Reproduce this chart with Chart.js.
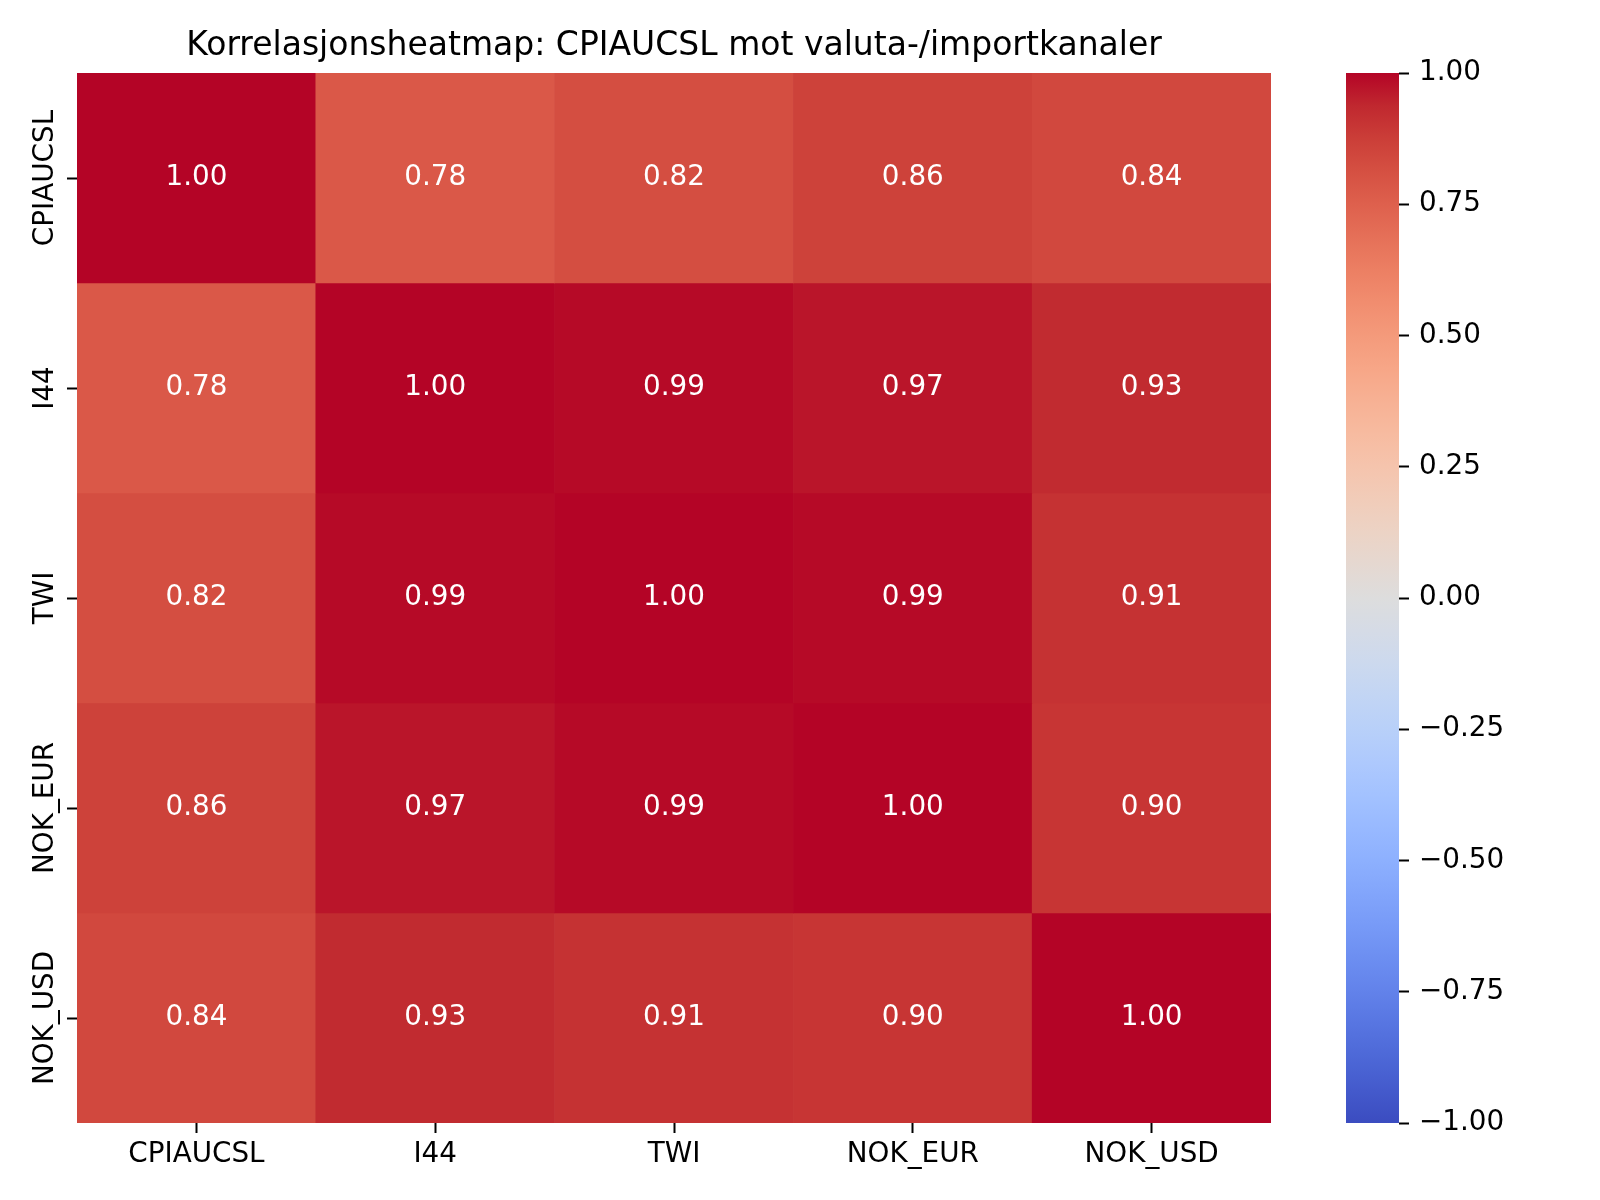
<!DOCTYPE html>
<html>
<head>
<meta charset="utf-8">
<script src="https://cdn.jsdelivr.net/npm/chart.js@4.4.1/dist/chart.umd.min.js"></script>
<style>
  html, body { margin: 0; padding: 0; background: #fff; overflow: hidden; }
  #wrap { position: relative; width: 1600px; height: 1200px; }
  #main { position: absolute; left: 0; top: 0; }
  #cbar { position: absolute; left: 1300px; top: 0; }
</style>
</head>
<body>
<div id="wrap">
  <canvas id="main" width="1348" height="1200"></canvas>
  <canvas id="cbar" width="300" height="1200"></canvas>
</div>
<script>
const titleText = 'Korrelasjonsheatmap: CPIAUCSL mot valuta-/importkanaler';
const columns = ['CPIAUCSL', 'I44', 'TWI', 'NOK_EUR', 'NOK_USD'];
const rows = ['CPIAUCSL', 'I44', 'TWI', 'NOK_EUR', 'NOK_USD'];

const rowCPIAUCSL = [1.00, 0.78, 0.82, 0.86, 0.84];
const rowI44      = [0.78, 1.00, 0.99, 0.97, 0.93];
const rowTWI      = [0.82, 0.99, 1.00, 0.99, 0.91];
const rowNOK_EUR  = [0.86, 0.97, 0.99, 1.00, 0.90];
const rowNOK_USD  = [0.84, 0.93, 0.91, 0.90, 1.00];
const matrix = [rowCPIAUCSL, rowI44, rowTWI, rowNOK_EUR, rowNOK_USD];

const colorbarTicks = [-1, -0.75, -0.5, -0.25, 0, 0.25, 0.5, 0.75, 1];

// coolwarm (Moreland) control points, evenly spaced 0..1
const coolwarm = [
  [59,76,192],[68,90,204],[77,104,215],[87,117,225],[98,130,234],[108,142,241],
  [119,154,247],[130,165,251],[141,176,254],[152,185,255],[163,194,255],[174,201,253],
  [184,208,249],[194,213,244],[204,217,238],[213,219,230],[221,221,221],[229,216,209],
  [236,211,197],[241,204,185],[245,196,173],[247,187,160],[247,177,148],[247,166,135],
  [244,154,123],[241,141,111],[236,127,99],[229,112,88],[222,96,77],[213,80,66],
  [203,62,56],[192,40,47],[180,4,38]
];

function cmap(t) {
  t = Math.max(0, Math.min(1, t));
  const n = coolwarm.length - 1;
  const i = Math.min(n - 1, Math.floor(t * n));
  const f = t * n - i;
  const a = coolwarm[i], b = coolwarm[i + 1];
  const c = a.map((v, k) => Math.round(v + (b[k] - v) * f));
  return 'rgb(' + c.join(',') + ')';
}
const valueColor = v => cmap((v + 1) / 2);

const FONT = 'DejaVu Sans';
const TICK_SIZE = 27.8;
Chart.defaults.font.family = FONT;
Chart.defaults.color = '#000';

// value labels in the middle of each cell
const cellText = {
  id: 'cellText',
  afterDatasetsDraw(chart) {
    const ctx = chart.ctx;
    ctx.save();
    ctx.fillStyle = '#fff';
    ctx.font = TICK_SIZE + 'px "' + FONT + '"';
    ctx.textAlign = 'center';
    ctx.textBaseline = 'middle';
    chart.data.datasets.forEach((ds, i) => {
      const meta = chart.getDatasetMeta(i);
      meta.data.forEach((bar, j) => {
        const p = bar.getProps(['x', 'y', 'base'], true);
        ctx.fillText(ds.values[j].toFixed(2), p.x, (p.y + p.base) / 2);
      });
    });
    ctx.restore();
  }
};

// rotated row names on the left
const rowLabels = {
  id: 'rowLabels',
  afterDraw(chart) {
    const y = chart.scales.y;
    const ctx = chart.ctx;
    ctx.save();
    ctx.fillStyle = '#000';
    ctx.font = TICK_SIZE + 'px "' + FONT + '"';
    ctx.textAlign = 'center';
    ctx.textBaseline = 'alphabetic';
    rows.forEach((name, r) => {
      ctx.save();
      ctx.translate(y.right - 24, y.getPixelForValue(r + 0.5));
      ctx.rotate(-Math.PI / 2);
      ctx.fillText(name, 0, 0);
      ctx.restore();
    });
    ctx.restore();
  }
};

function initMain() {
  const datasets = matrix.map((vals, r) => ({
    label: rows[r],
    values: vals,
    data: vals.map(() => [r, r + 1]),
    backgroundColor: vals.map(valueColor),
    borderWidth: 0,
    barPercentage: 1,
    categoryPercentage: 1
  }));

  new Chart(document.getElementById('main'), {
    type: 'bar',
    data: { labels: columns, datasets },
    options: {
      responsive: false,
      animation: false,
      devicePixelRatio: 1,
      plugins: {
        legend: { display: false },
        tooltip: { enabled: false },
        title: {
          display: true,
          text: titleText,
          color: '#000',
          font: { size: 33, weight: 'normal', family: FONT },
          padding: { top: 27, bottom: 6.4 }
        }
      },
      scales: {
        x: {
          stacked: true,
          border: { display: false },
          grid: {
            display: true, drawOnChartArea: false, drawTicks: true, offset: false,
            tickLength: 10, tickColor: '#000', tickWidth: 2
          },
          ticks: { font: { size: TICK_SIZE }, color: '#000', padding: 5, maxRotation: 0, minRotation: 0 },
          afterFit(scale) { scale.height = 77; }
        },
        y: {
          type: 'linear',
          stacked: false,
          min: 0,
          max: rows.length,
          reverse: true,
          border: { display: false },
          grid: {
            display: true, drawOnChartArea: false, drawTicks: true,
            tickLength: 10, tickColor: '#000', tickWidth: 2
          },
          ticks: { display: false },
          afterBuildTicks(scale) {
            scale.ticks = rows.map((_, r) => ({ value: r + 0.5 }));
          },
          afterFit(scale) { scale.width = 77; }
        },
        // empty spacer on the right so the title stays centred over the cells
        spacer: {
          type: 'linear',
          position: 'right',
          border: { display: false },
          grid: { display: false },
          ticks: { display: false },
          afterFit(scale) { scale.width = 77; }
        }
      }
    },
    plugins: [cellText, rowLabels]
  });
}

function initColorbar() {
  new Chart(document.getElementById('cbar'), {
    type: 'bar',
    data: {
      labels: [''],
      datasets: [{
        data: [[colorbarTicks[0], colorbarTicks[colorbarTicks.length - 1]]],
        borderWidth: 0,
        borderSkipped: false,
        barPercentage: 1,
        categoryPercentage: 1,
        backgroundColor(c) {
          const area = c.chart.chartArea;
          if (!area) return '#ccc';
          const g = c.chart.ctx.createLinearGradient(0, area.bottom, 0, area.top);
          coolwarm.forEach((_, k) => {
            const t = k / (coolwarm.length - 1);
            g.addColorStop(t, cmap(t));
          });
          return g;
        }
      }]
    },
    options: {
      responsive: false,
      animation: false,
      devicePixelRatio: 1,
      layout: { padding: { left: 46, right: 0, top: 73, bottom: 77 } },
      plugins: { legend: { display: false }, tooltip: { enabled: false } },
      scales: {
        x: { display: false },
        y: {
          position: 'right',
          min: -1,
          max: 1,
          border: { display: false },
          grid: {
            display: true, drawOnChartArea: false, drawTicks: true,
            tickLength: 10, tickColor: '#000', tickWidth: 2
          },
          ticks: {
            font: { size: TICK_SIZE }, color: '#000', padding: 10,
            callback: v => (v < 0 ? '\u2212' : '') + Math.abs(v).toFixed(2)
          },
          afterBuildTicks(scale) {
            scale.ticks = colorbarTicks.map(v => ({ value: v }));
          },
          afterFit(scale) { scale.width = 201; }
        }
      }
    }
  });
}

initMain();
initColorbar();
</script>
</body>
</html>
